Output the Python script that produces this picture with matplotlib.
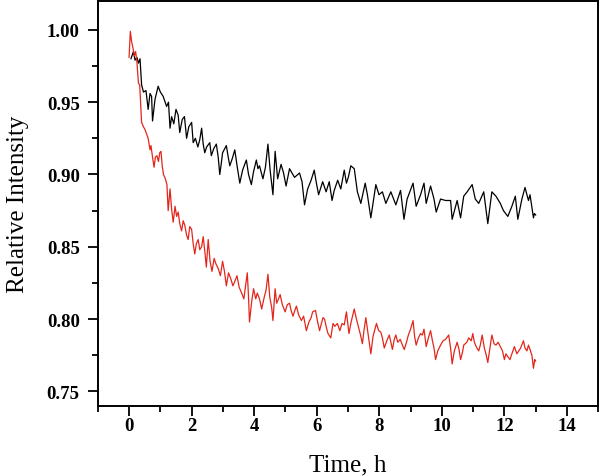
import matplotlib
matplotlib.use("Agg")
import matplotlib.pyplot as plt
from matplotlib.ticker import MultipleLocator

# black trace (time in h, relative intensity)
t_black = [0.06, 0.14, 0.19, 0.25, 0.30, 0.35, 0.40, 0.46, 0.54, 0.61, 0.67, 0.72, 0.75, 0.83,
           0.93, 1.00, 1.09, 1.20, 1.26, 1.31, 1.36, 1.43, 1.50, 1.57, 1.62, 1.70, 1.77, 1.84,
           1.91, 2.00, 2.05, 2.12, 2.20, 2.26, 2.32, 2.37, 2.42, 2.48, 2.58, 2.63, 2.71, 2.79,
           2.85, 2.90, 2.95, 2.99, 3.11, 3.17, 3.22, 3.30, 3.38, 3.46, 3.54, 3.63, 3.75, 3.82,
           3.91, 3.98, 4.07, 4.12, 4.17, 4.28, 4.36, 4.44, 4.51, 4.60, 4.67, 4.75, 4.86, 4.94,
           5.02, 5.13, 5.29, 5.45, 5.53, 5.61, 5.71, 5.82, 5.92, 5.99, 6.06, 6.19, 6.30, 6.40,
           6.49, 6.56, 6.67, 6.77, 6.88, 6.95, 7.01, 7.09, 7.20, 7.30, 7.41, 7.55, 7.62, 7.73,
           7.89, 7.99, 8.10, 8.21, 8.37, 8.53, 8.68, 8.79, 8.89, 9.08, 9.18, 9.32, 9.43, 9.50,
           9.64, 9.75, 9.82, 9.96, 10.12, 10.28, 10.33, 10.49, 10.60, 10.70, 10.81, 10.97, 11.07,
           11.18, 11.34, 11.47, 11.60, 11.73, 11.87, 11.97, 12.11, 12.24, 12.35, 12.43, 12.56,
           12.66, 12.77, 12.82, 12.93, 12.96, 13.00]
i_black = [0.980, 0.985, 0.979, 0.981, 0.977, 0.980, 0.962, 0.957, 0.958, 0.945, 0.956, 0.954, 0.937, 0.952,
           0.961, 0.957, 0.954, 0.947, 0.950, 0.932, 0.940, 0.935, 0.945, 0.941, 0.929, 0.938, 0.940, 0.925,
           0.933, 0.936, 0.922, 0.925, 0.919, 0.924, 0.932, 0.921, 0.915, 0.919, 0.922, 0.913, 0.918, 0.921,
           0.912, 0.900, 0.908, 0.915, 0.920, 0.912, 0.906, 0.911, 0.917, 0.905, 0.894, 0.903, 0.910, 0.900,
           0.893, 0.902, 0.910, 0.904, 0.906, 0.897, 0.905, 0.921, 0.903, 0.886, 0.916, 0.897, 0.907, 0.901,
           0.892, 0.904, 0.898, 0.901, 0.895, 0.879, 0.890, 0.896, 0.903, 0.894, 0.886, 0.895, 0.888, 0.895,
           0.882, 0.889, 0.896, 0.890, 0.903, 0.894, 0.898, 0.906, 0.904, 0.888, 0.880, 0.894, 0.886, 0.870,
           0.893, 0.886, 0.888, 0.880, 0.888, 0.879, 0.889, 0.869, 0.883, 0.894, 0.878, 0.886, 0.894, 0.880,
           0.892, 0.883, 0.874, 0.883, 0.882, 0.882, 0.869, 0.882, 0.870, 0.885, 0.888, 0.893, 0.883,
           0.880, 0.888, 0.866, 0.888, 0.885, 0.880, 0.875, 0.871, 0.878, 0.885, 0.869, 0.883,
           0.891, 0.882, 0.886, 0.870, 0.873, 0.872]

# red trace
t_red = [0.00, 0.04, 0.08, 0.12, 0.17, 0.21, 0.25, 0.30, 0.34, 0.40, 0.46, 0.51, 0.56, 0.61, 0.67,
         0.70, 0.75, 0.80, 0.84, 0.89, 0.94, 0.98, 1.02, 1.06, 1.10, 1.16, 1.21, 1.25, 1.31, 1.36,
         1.41, 1.47, 1.52, 1.57, 1.62, 1.68, 1.73, 1.78, 1.84, 1.89, 1.94, 2.00, 2.05, 2.10, 2.15,
         2.21, 2.26, 2.32, 2.37, 2.43, 2.47, 2.53, 2.59, 2.65, 2.72, 2.78, 2.85, 2.92, 2.99, 3.05,
         3.11, 3.18, 3.25, 3.32, 3.38, 3.45, 3.52, 3.60, 3.67, 3.72, 3.78, 3.82, 3.85, 3.92, 3.98,
         4.05, 4.10, 4.17, 4.24, 4.32, 4.38, 4.44, 4.50, 4.56, 4.60, 4.67, 4.72, 4.78, 4.83, 4.90,
         4.99, 5.06, 5.13, 5.18, 5.24, 5.30, 5.35, 5.42, 5.51, 5.58, 5.67, 5.75, 5.82, 5.87, 5.96,
         6.03, 6.09, 6.15, 6.20, 6.25, 6.30, 6.36, 6.45, 6.52, 6.58, 6.66, 6.74, 6.81, 6.88, 6.95,
         7.03, 7.10, 7.20, 7.27, 7.34, 7.40, 7.46, 7.51, 7.57, 7.64, 7.73, 7.80, 7.91, 7.98, 8.05,
         8.10, 8.16, 8.24, 8.32, 8.37, 8.42, 8.48, 8.53, 8.59, 8.67, 8.74, 8.80, 8.87, 8.93, 9.00,
         9.08, 9.13, 9.18, 9.25, 9.32, 9.38, 9.43, 9.50, 9.57, 9.64, 9.70, 9.75, 9.80, 9.87, 9.96,
         10.04, 10.12, 10.22, 10.28, 10.33, 10.40, 10.49, 10.55, 10.60, 10.66, 10.70, 10.80, 10.86,
         10.94, 10.99, 11.04, 11.12, 11.18, 11.23, 11.29, 11.36, 11.42, 11.47, 11.55, 11.60, 11.67,
         11.73, 11.80, 11.87, 11.94, 12.00, 12.05, 12.11, 12.18, 12.24, 12.32, 12.40, 12.46, 12.52,
         12.61, 12.66, 12.72, 12.77, 12.82, 12.88, 12.93, 12.97, 13.00]
i_red = [0.981, 0.999, 0.992, 0.988, 0.982, 0.985, 0.978, 0.963, 0.962, 0.936, 0.933, 0.931, 0.928, 0.925, 0.917,
         0.920, 0.912, 0.905, 0.912, 0.913, 0.909, 0.915, 0.916, 0.906, 0.900, 0.897, 0.893, 0.875, 0.890, 0.876,
         0.867, 0.878, 0.871, 0.874, 0.866, 0.861, 0.868, 0.865, 0.858, 0.855, 0.864, 0.862, 0.852, 0.845, 0.852,
         0.855, 0.848, 0.850, 0.857, 0.845, 0.836, 0.855, 0.840, 0.833, 0.842, 0.838, 0.835, 0.830, 0.840, 0.833,
         0.823, 0.832, 0.828, 0.823, 0.826, 0.830, 0.822, 0.818, 0.814, 0.822, 0.832, 0.815, 0.798, 0.812, 0.821,
         0.814, 0.818, 0.814, 0.807, 0.815, 0.820, 0.831, 0.815, 0.808, 0.799, 0.821, 0.811, 0.814, 0.817, 0.810,
         0.805, 0.810, 0.811, 0.806, 0.802, 0.806, 0.809, 0.803, 0.799, 0.802, 0.792, 0.798, 0.801, 0.805, 0.806,
         0.798, 0.792, 0.797, 0.801, 0.800, 0.795, 0.790, 0.787, 0.797, 0.795, 0.797, 0.792, 0.797, 0.796, 0.805,
         0.790, 0.798, 0.807, 0.800, 0.794, 0.789, 0.783, 0.792, 0.801, 0.790, 0.776, 0.788, 0.797, 0.792, 0.791,
         0.787, 0.780, 0.785, 0.789, 0.784, 0.779, 0.786, 0.789, 0.784, 0.786, 0.782, 0.779, 0.784, 0.789, 0.793,
         0.799, 0.788, 0.782, 0.787, 0.790, 0.789, 0.793, 0.781, 0.787, 0.792, 0.785, 0.780, 0.772, 0.778, 0.782,
         0.785, 0.786, 0.789, 0.780, 0.769, 0.778, 0.784, 0.779, 0.772, 0.777, 0.782, 0.784, 0.787,
         0.785, 0.790, 0.784, 0.780, 0.778, 0.782, 0.789, 0.780, 0.775, 0.770, 0.782, 0.789, 0.783,
         0.782, 0.784, 0.781, 0.778, 0.772, 0.776, 0.774, 0.772, 0.776, 0.781, 0.776, 0.778, 0.780,
         0.785, 0.780, 0.778, 0.782, 0.779, 0.775, 0.766, 0.772, 0.771]

plt.rcParams['font.family'] = ['Liberation Serif', 'DejaVu Serif']

fig = plt.figure(figsize=(6, 4.77), dpi=100)
ax = fig.add_axes([0.163, 0.147, 0.834, 0.849])

ax.plot(t_black, i_black, color='black', lw=0.9)
ax.plot(t_red, i_red, color='#e3261b', lw=0.9)

ax.set_xlim(-1, 15)
ax.set_ylim(0.74, 1.02)
ax.xaxis.set_major_locator(MultipleLocator(2))
ax.xaxis.set_minor_locator(MultipleLocator(1))
ax.yaxis.set_major_locator(MultipleLocator(0.05))
ax.yaxis.set_minor_locator(MultipleLocator(0.025))
ax.yaxis.set_major_formatter(matplotlib.ticker.FormatStrFormatter('%.2f'))

for s in ax.spines.values():
    s.set_linewidth(1.4)
ax.tick_params(which='major', direction='out', length=7, width=1.3, labelsize=13.5)
ax.tick_params(axis='x', which='major', pad=1)
ax.tick_params(axis='y', which='major', pad=6)
ax.tick_params(which='minor', direction='out', length=4, width=1.3)
for lab in ax.get_xticklabels() + ax.get_yticklabels():
    lab.set_fontweight('bold')

ax.set_xlabel('Time, h', fontsize=18, labelpad=14)
ax.set_ylabel('Relative Intensity', fontsize=18, labelpad=13)

fig.savefig('out.png', dpi=100)
